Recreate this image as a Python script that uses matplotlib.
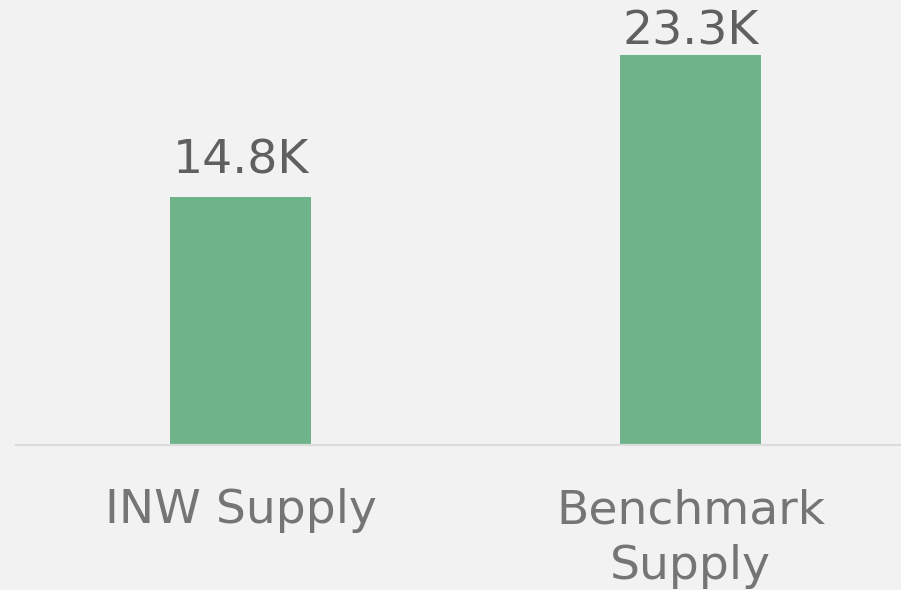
import matplotlib
matplotlib.use('Agg')
import matplotlib.pyplot as plt
import numpy as np

# Daten
categories = ['INW Supply', 'Benchmark\nSupply']
values = [14.8, 23.3]  # in Tausend
labels = ['14.8K', '23.3K']

bg = '#f2f2f2'
bar_color = '#6fb38a'

fig = plt.figure(figsize=(9.01, 5.90), dpi=100, facecolor=bg)
ax = fig.add_axes([15.5 / 901, 145 / 590, 900 / 901, 445 / 590], facecolor=bg)

x = np.arange(len(categories))
ax.bar(x, values, width=0.313, color=bar_color, zorder=2)

y_top = 26.59
ax.set_xlim(-0.5, 1.5)
ax.set_ylim(0, y_top)

# Werte über den Balken (oben begrenzt)
pad = 1.43
y_max_label = 23.96
for xi, v, lab in zip(x, values, labels):
    ax.text(xi, min(v + pad, y_max_label), lab, ha='center', va='baseline',
            fontsize=34, color='#606060')

ax.set_xticks(x)
ax.set_xticklabels(categories, fontsize=34, color='#757575', linespacing=1.32)
ax.tick_params(axis='x', length=0, pad=31)
ax.set_yticks([])

for side in ['top', 'right', 'left']:
    ax.spines[side].set_visible(False)
ax.spines['bottom'].set_color('#dcdcdc')
ax.spines['bottom'].set_linewidth(1.6)

fig.savefig('out.png', dpi=100, facecolor=bg)
